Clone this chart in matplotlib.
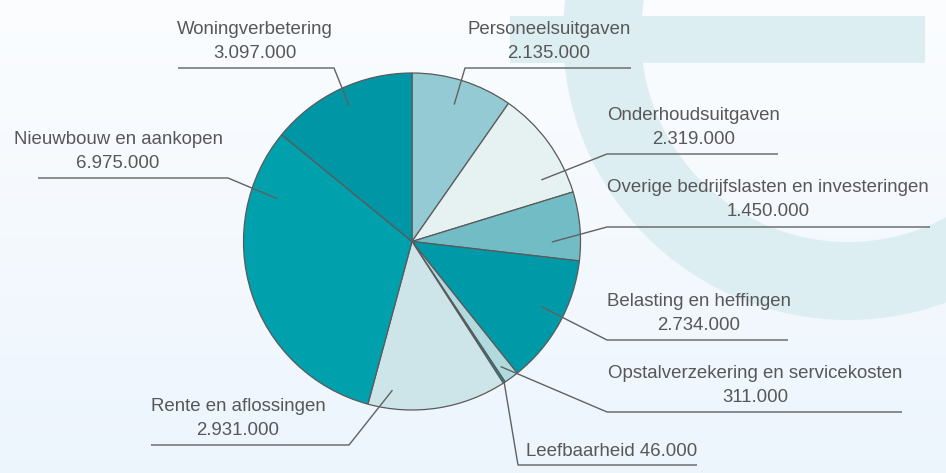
import numpy as np
import matplotlib
matplotlib.use("Agg")
import matplotlib.pyplot as plt
from matplotlib.patches import Wedge, Rectangle

plt.rcParams['font.family'] = ['Liberation Sans', 'DejaVu Sans']

# data, clockwise from the top
categories = [
    "Personeelsuitgaven",
    "Onderhoudsuitgaven",
    "Overige bedrijfslasten en investeringen",
    "Belasting en heffingen",
    "Opstalverzekering en servicekosten",
    "Leefbaarheid",
    "Rente en aflossingen",
    "Nieuwbouw en aankopen",
    "Woningverbetering",
]
amounts = [2135000, 2319000, 1450000, 2734000, 311000, 46000, 2931000, 6975000, 3097000]
colors = ["#94cad3", "#e6f1f2", "#72bcc6", "#0099a8", "#b1dadf",
          "#0098a8", "#cde4e8", "#00a0ad", "#0096a5"]

# label layout (pixel coordinates, y down)
text_x = [549, 694, 768, 699, 755, 612, 238, 118, 255]
text_y = [29, 115, 187, 301, 373, 451, 406, 139, 29]
line_y = [68, 154, 227, 340, 412, 465, 445, 178, 68]
line_far = [631, 778, 930, 788, 902, 697, 151, 38, 178]
line_elbow = [465, 607, 607, 607, 607, 518, 349, 228, 334]
anchor_frac = [0.49, 0.78, 0.73, 0.45, 0.65, 0.5, 0.84, 0.81, 0.51]
anchor_rad = [0.85, 0.85, 0.83, 0.86, 0.91, 1.0, 0.89, 0.84, 0.89]

W, H = 946, 473
CX, CY, R = 412, 241.5, 168.5
TXT = "#575757"
LINE = "#616161"


def fmt(v):
    return f"{v:,}".replace(",", ".")


fig = plt.figure(figsize=(W / 100, H / 100), dpi=100)
ax = fig.add_axes([0, 0, 1, 1])

# background gradient
grad = np.linspace(0, 1, 256).reshape(-1, 1)
top = np.array([0.984, 0.992, 0.998])
bot = np.array([0.929, 0.961, 0.992])
img = top + (bot - top) * grad[..., None]
ax.imshow(img, extent=(0, W, H, 0), aspect='auto', zorder=0)

# faint logo in the background
ring_col = "#ddeef2"
ax.add_patch(Wedge((848, 35), 285, 0, 360, width=78, facecolor=ring_col,
                   edgecolor='none', zorder=1))
ax.add_patch(Rectangle((510, 16), 415, 47, facecolor=ring_col,
                       edgecolor='none', zorder=1))

wedges, _ = ax.pie(amounts, colors=colors, startangle=-90, counterclock=True,
                   center=(CX, CY), radius=R, frame=True,
                   wedgeprops=dict(edgecolor="#5a5a5a", linewidth=0.9))
for w in wedges:
    w.set_zorder(3)

for i, w in enumerate(wedges):
    th = np.deg2rad(w.theta1 + anchor_frac[i] * (w.theta2 - w.theta1))
    ax_x = CX + anchor_rad[i] * R * np.cos(th)
    ax_y = CY + anchor_rad[i] * R * np.sin(th)
    ax.plot([line_far[i], line_elbow[i], ax_x], [line_y[i], line_y[i], ax_y],
            color=LINE, lw=1.0, zorder=4, solid_capstyle='butt')
    if categories[i] == "Leefbaarheid":
        ax.text(text_x[i], text_y[i], f"{categories[i]} {fmt(amounts[i])}",
                ha='center', va='center', fontsize=13.4, color=TXT, zorder=5)
    else:
        ax.text(text_x[i], text_y[i], categories[i], ha='center', va='center',
                fontsize=13.4, color=TXT, zorder=5)
        ax.text(text_x[i], text_y[i] + 24, fmt(amounts[i]), ha='center',
                va='center', fontsize=13.4, color=TXT, zorder=5)

ax.set_xlim(0, W)
ax.set_ylim(H, 0)
ax.set_aspect('auto')
ax.axis('off')

fig.savefig("out.png", dpi=100)
